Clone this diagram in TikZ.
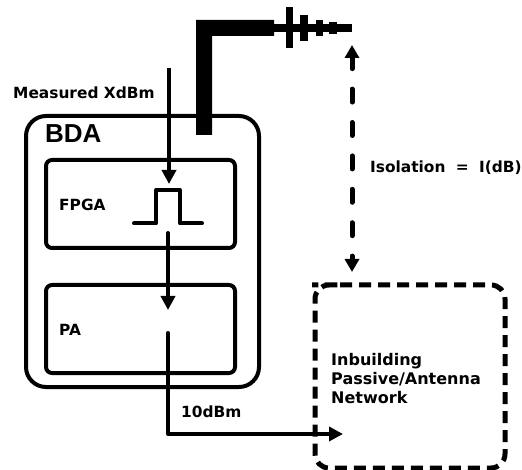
\documentclass[tikz,border=0pt]{standalone}
\usepackage{fontspec}
\setmainfont{DejaVu Sans}
\newfontfamily\bdafont{Liberation Sans}
\usetikzlibrary{arrows.meta}
\tikzset{
  x=1pt,y=-1pt,
  box/.style={draw=black,line width=4pt,rounded corners=#1},
  netbox/.style={draw=black,line width=5pt,rounded corners=14pt,dash pattern=on 12pt off 7pt},
  wire/.style={draw=black,line width=4pt,line cap=round,line join=round},
  arrowwire/.style={wire,-{Triangle[length=14pt,width=14pt]}},
  dashwire/.style={draw=black,line width=5pt,line cap=round,dash pattern=on 13pt off 20.4pt,dash phase=1.5pt,{Triangle[length=13pt,width=14pt]}-{Triangle[length=13pt,width=14pt]}},
  lab/.style={inner sep=0pt,anchor=west,font=\bfseries\fontsize{15.4}{18.5}\selectfont,align=left,text=black},
  antenna/.style={fill=black,draw=none}
}
\begin{document}
\begin{tikzpicture}
\useasboundingbox (0,0) rectangle (522,470);
\path[box=20pt] (26,116) rectangle (259,387);
\path[box=6pt] (46,160) rectangle (235,248);
\path[box=6pt] (46,285) rectangle (235,373);
\path[netbox] (326,285) -- (505,285) -- (505,468) -- (315,468) -- (315,285) -- cycle;

\coordinate (inTop) at (169,68);
\coordinate (inTip) at (169,184);
\coordinate (pulseL) at (134,223.5);
\coordinate (pulseA) at (156,223.5);
\coordinate (pulseB) at (156,190);
\coordinate (pulseC) at (180,190);
\coordinate (pulseD) at (180,223.5);
\coordinate (pulseR) at (202,223.5);
\coordinate (midTop) at (168,233);
\coordinate (midTip) at (168,310);
\coordinate (paOut) at (168,333);
\coordinate (paCorner) at (168,434);
\coordinate (netIn) at (343,434);
\coordinate (isoTop) at (352,45);
\coordinate (isoBot) at (352,272);

\draw[arrowwire,line cap=butt] (inTop) -- (inTip);
\draw[wire] (pulseL) -- (pulseA) -- (pulseB) -- (pulseC) -- (pulseD) -- (pulseR);
\draw[arrowwire] (midTop) -- (midTip);
\draw[arrowwire] (paOut) -- (paCorner) -- (netIn);
\draw[dashwire] (isoTop) -- (isoBot);

% antenna
\fill[antenna] (196,135) -- (196,20) -- (274,20) -- (274,36) -- (212,36) -- (212,135) -- cycle;
\fill[antenna] (274,24) rectangle (352,32);
\fill[antenna] (286,7) rectangle (293,48);
\fill[antenna] (300,15) rectangle (308,41);
\fill[antenna] (316,20) rectangle (323,36);
\fill[antenna] (329,22) rectangle (337,34);

\node[lab] (measured) at (13,93) {Measured XdBm};
\node[lab,font=\bdafont\bfseries\fontsize{26}{28}\selectfont] (bda) at (45,134) {BDA};
\node[lab] (fpga) at (59,205) {FPGA};
\node[lab] (pa) at (59,330) {PA};
\node[lab] (ten) at (181,412) {10dBm};
\node[lab] (iso) at (370,168) {Isolation\hspace{5pt} =\hspace{5pt} I(dB)};
\node[lab,font=\bfseries\fontsize{16}{19}\selectfont] (net) at (331,379) {Inbuilding\\Passive/Antenna\\Network};
\end{tikzpicture}
\end{document}
